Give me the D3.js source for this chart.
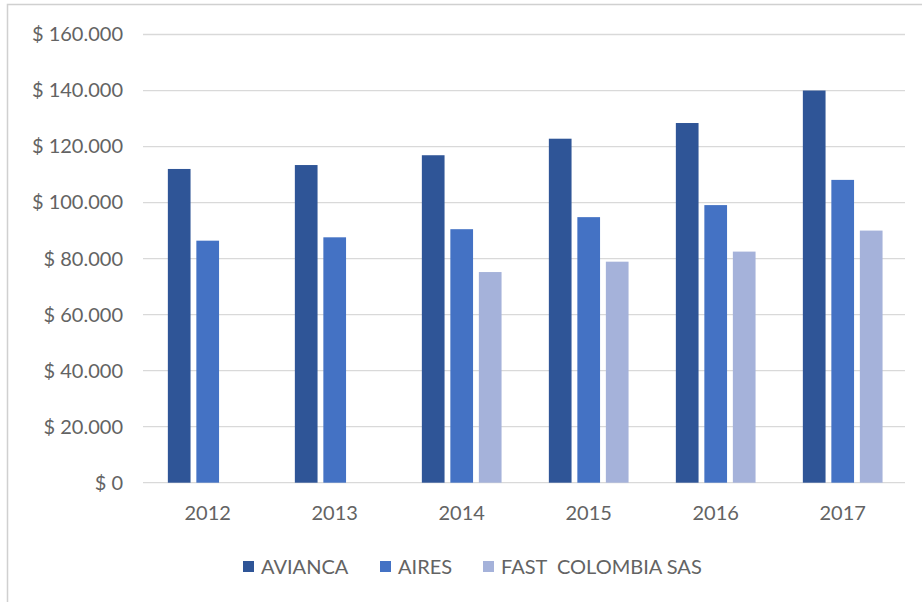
<!DOCTYPE html>
<html>
<head>
<meta charset="utf-8">
<script src="https://cdn.jsdelivr.net/npm/d3@7"></script>
<style>
  html, body { margin: 0; padding: 0; background: #fff; }
  svg { display: block; }
  text { font-family: Lato, "Open Sans", sans-serif; fill: #636363; }
</style>
</head>
<body>
<svg id="chart" width="922" height="602"></svg>
<script>
// Annual values per airline (COP), 2012–2017
const years = ["2012", "2013", "2014", "2015", "2016", "2017"];
const series = ["AVIANCA", "AIRES", "FAST  COLOMBIA SAS"];
const avianca = [112000, 113400, 116900, 122800, 128400, 140000];
const aires = [86400, 87600, 90500, 94800, 99100, 108100];
const fast = [null, null, 75200, 78900, 82500, 90000];
const yTicks = [0, 20000, 40000, 60000, 80000, 100000, 120000, 140000, 160000];
const colors = ["#2F5597", "#4472C4", "#A5B2DA"];

const values = [avianca, aires, fast];
const svg = d3.select("#chart");
const textColor = "#636363";
const fontSize = 20;

// chart frame
svg.append("rect")
  .attr("x", 7.5).attr("y", 4.5)
  .attr("width", 940).attr("height", 640)
  .attr("fill", "none").attr("stroke", "#D0D0D0").attr("stroke-width", 1.5);

const plot = { left: 143, right: 905, top: 34.5, bottom: 482.7 };

const x = d3.scaleBand().domain(years).range([plot.left, plot.right]).paddingInner(0).paddingOuter(0);
const y = d3.scaleLinear().domain([0, 160000]).range([plot.bottom, plot.top]);

// group spacing inside each year: bar width ~22.7, step ~28.5
const barW = 22.7, step = 28.5;
const xs = d3.scaleBand().domain(series)
  .range([x.bandwidth() / 2 - step * 1.5 + 1.2, x.bandwidth() / 2 + step * 1.5 + 1.2])
  .paddingInner((step - barW) / step).paddingOuter((step - barW) / step / 2);

// gridlines
const grid = svg.append("g");
grid.selectAll("line").data(yTicks).join("line")
  .attr("x1", plot.left).attr("x2", plot.right)
  .attr("y1", d => y(d)).attr("y2", d => y(d))
  .attr("stroke", "#D9D9D9").attr("stroke-width", 1.3);

// y axis labels
const fmt = d => "$ " + (d === 0 ? "0" : d3.format(",")(d).replace(/,/g, "."));
const yAxis = d3.axisLeft(y).tickValues(yTicks).tickFormat(fmt).tickSize(0).tickPadding(0);
const gy = svg.append("g").attr("transform", `translate(${plot.left - 20},0)`).call(yAxis);
gy.select(".domain").remove();
gy.selectAll("text")
  .attr("font-size", fontSize).attr("fill", textColor)
  .style("font-family", "Lato, sans-serif");

// bars
series.forEach((s, si) => {
  const data = years.map((yr, i) => ({ yr, v: values[si][i] })).filter(d => d.v != null);
  svg.append("g").selectAll("rect").data(data).join("rect")
    .attr("x", d => x(d.yr) + xs(s))
    .attr("width", xs.bandwidth())
    .attr("y", d => y(d.v))
    .attr("height", d => y(0) - y(d.v))
    .attr("fill", colors[si]);
});

// x axis labels
const xAxis = d3.axisBottom(x).tickSize(0).tickPadding(0);
const gx = svg.append("g").attr("transform", `translate(1.2,${plot.bottom + 37})`).call(xAxis);
gx.select(".domain").remove();
gx.selectAll("text")
  .attr("font-size", fontSize).attr("fill", textColor).attr("dy", 0)
  .style("font-family", "Lato, sans-serif");

// legend
const legendX = [243, 380, 483];
const lg = svg.append("g").attr("transform", "translate(0,567)");
series.forEach((s, i) => {
  lg.append("rect").attr("x", legendX[i]).attr("y", -6).attr("width", 11).attr("height", 11).attr("fill", colors[i]);
  lg.append("text").attr("x", legendX[i] + 18).attr("y", 7)
    .attr("font-size", fontSize).attr("fill", textColor)
    .attr("xml:space", "preserve").style("white-space", "pre")
    .text(s);
});
</script>
</body>
</html>
